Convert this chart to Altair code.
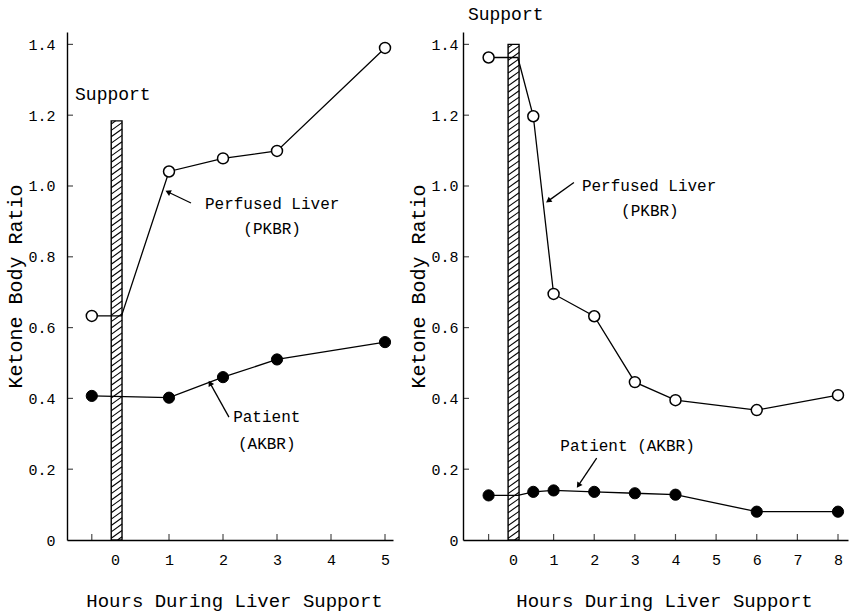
import altair as alt
import numpy as np
import pandas as pd

FONT = "Liberation Mono"

# ---------------- data ----------------
# Left panel
L_hours = [-0.43, 1, 2, 3, 5]
L_pkbr = [0.633, 1.041, 1.078, 1.099, 1.39]
L_akbr = [0.407, 0.402, 0.46, 0.51, 0.559]
L_bar = [-0.07, 0.13, 1.184]          # support bar: start, end (hours), height
L_xticks = [0, 1, 2, 3, 4, 5]

# Right panel
R_hours = [-0.6, 0.5, 1, 2, 3, 4, 6, 8]
R_pkbr = [1.363, 1.197, 0.695, 0.632, 0.446, 0.395, 0.367, 0.409]
R_akbr = [0.126, 0.136, 0.140, 0.136, 0.132, 0.128, 0.080, 0.080]
R_bar = [-0.12, 0.15, 1.40]
R_xticks = [0, 1, 2, 3, 4, 5, 6, 7, 8]

y_ticks = [0, 0.2, 0.4, 0.6, 0.8, 1.0, 1.2, 1.4]

# annotations: text, x, y
L_notes_text = ["Perfused Liver", "(PKBR)", "Patient", "(AKBR)"]
L_notes_x = [2.91, 2.91, 2.81, 2.81]
L_notes_y = [0.949, 0.878, 0.347, 0.271]
R_notes_text = ["Perfused Liver", "(PKBR)", "Patient (AKBR)"]
R_notes_x = [3.35, 3.37, 2.82]
R_notes_y = [1.0, 0.93, 0.266]

# arrows: tail x, tail y, head x, head y, head angle
L_arrows = [[1.407, 0.952, 0.981, 0.983, 295.6], [2.11, 0.347, 1.76, 0.443, 331.0]]
R_arrows = [[1.50, 1.01, 0.87, 0.958, 234.4], [2.06, 0.231, 1.61, 0.154, 213.9]]

# "Support" label position (left edge x, baseline y)
L_support = [-0.74, 1.243]
R_support = [-1.11, 1.47]

YDOM = [0, 1.435]
H = 508


def hatch(x0, x1, top, spacing=0.018, rise=0.022):
    rows = []
    for s in np.arange(-rise + spacing / 2, top, spacing):
        xa, ya = x0, s
        if ya < 0:
            xa = x0 + (-s) / rise * (x1 - x0)
            ya = 0.0
        xb, yb = x1, s + rise
        if yb > top:
            xb = x0 + (top - s) / rise * (x1 - x0)
            yb = top
        if xa < xb:
            rows.append({"x": xa, "x2": xb, "y": ya, "y2": yb})
    return pd.DataFrame(rows)


def panel(hours, pk, ak, bar, xticks, xdom, width, notes, arrows, support,
          vertex_pk, vertex_ak, label_pad, ytitle_x, xtitle_x):
    xs = alt.Scale(domain=xdom, nice=False, zero=False)
    ys = alt.Scale(domain=YDOM, nice=False, zero=False)

    X = lambda f, **k: alt.X(f, type="quantitative", scale=xs, **k)
    Y = lambda f, **k: alt.Y(f, type="quantitative", scale=ys, **k)

    bar_df = pd.DataFrame({"x": [bar[0]], "x2": [bar[1]], "y": [0], "y2": [bar[2]]})
    base = alt.Chart(bar_df).mark_rect(fill="white", stroke="black", strokeWidth=1.4).encode(
        x=X("x", axis=alt.Axis(values=xticks, title="Hours During Liver Support",
                               labelExpr="format(datum.value, 'd')",
                               titleX=xtitle_x, titleY=66, titleBaseline="alphabetic",
                               titleAlign="center", titleAnchor="middle",
                               labelPadding=12)),
        x2="x2",
        y=Y("y", axis=alt.Axis(values=y_ticks, title="Ketone Body Ratio",
                               labelExpr="datum.value == 0 ? '0' : format(datum.value, '.1f')",
                               titleX=ytitle_x, titleBaseline="middle",
                               labelPadding=label_pad)),
        y2="y2",
    )

    hatch_layer = alt.Chart(hatch(bar[0], bar[1], bar[2])).mark_rule(
        color="black", strokeWidth=1.1).encode(x=X("x"), x2="x2", y=Y("y"), y2="y2")

    # inner ticks
    xt = pd.DataFrame({"x": [hours[0]] + xticks[1:], "y": [0] * len(xticks)})
    xtick_layer = alt.Chart(xt).mark_tick(orient="vertical", size=6, thickness=1.2,
                                          yOffset=-3, color="black").encode(x=X("x"), y=Y("y"))
    yt = pd.DataFrame({"x": [xdom[0]] * (len(y_ticks) - 1), "y": y_ticks[1:]})
    ytick_layer = alt.Chart(yt).mark_tick(orient="horizontal", size=6, thickness=1.2,
                                          xOffset=3, color="black").encode(x=X("x"), y=Y("y"))

    # lines
    pk_line = pd.DataFrame({"x": hours + ([vertex_pk] if vertex_pk is not None else []),
                            "y": pk + ([pk[0]] if vertex_pk is not None else [])})
    ak_line = pd.DataFrame({"x": hours + ([vertex_ak] if vertex_ak is not None else []),
                            "y": ak + ([ak[0]] if vertex_ak is not None else [])})
    l1 = alt.Chart(pk_line).mark_line(color="black", strokeWidth=1.3).encode(x=X("x"), y=Y("y"))
    l2 = alt.Chart(ak_line).mark_line(color="black", strokeWidth=1.3).encode(x=X("x"), y=Y("y"))

    pts_pk = alt.Chart(pd.DataFrame({"x": hours, "y": pk})).mark_point(
        shape="circle", filled=True, fill="white", stroke="black", strokeWidth=1.5,
        size=120, opacity=1).encode(x=X("x"), y=Y("y"))
    pts_ak = alt.Chart(pd.DataFrame({"x": hours, "y": ak})).mark_point(
        shape="circle", filled=True, fill="black", stroke="black", strokeWidth=1,
        size=125, opacity=1).encode(x=X("x"), y=Y("y"))

    notes_df = pd.DataFrame({"x": notes[1], "y": notes[2], "t": notes[0]})
    notes_layer = alt.Chart(notes_df).mark_text(font=FONT, fontSize=16, align="center",
                                                baseline="middle", color="black").encode(
        x=X("x"), y=Y("y"), text="t:N")

    ar = pd.DataFrame(arrows, columns=["x", "y", "x2", "y2", "a"])
    arrow_lines = alt.Chart(ar).mark_rule(color="black", strokeWidth=1.3).encode(
        x=X("x"), y=Y("y"), x2="x2", y2="y2")
    arrow_heads = alt.Chart(ar).mark_point(shape="triangle-up", filled=True, color="black",
                                           size=40, opacity=1).encode(
        x=X("x2"), y=Y("y2"), angle=alt.Angle("a:Q", scale=None))

    sup = alt.Chart(pd.DataFrame({"x": [support[0]], "y": [support[1]], "t": ["Support"]})).mark_text(
        font=FONT, fontSize=18, align="left", baseline="alphabetic", color="black").encode(
        x=X("x"), y=Y("y"), text="t:N")

    return alt.layer(base, hatch_layer, xtick_layer, ytick_layer, l1, l2, pts_pk, pts_ak,
                     notes_layer, arrow_lines, arrow_heads, sup).properties(width=width, height=H)


left = panel(L_hours, L_pkbr, L_akbr, L_bar, L_xticks, [-0.889, 5.148], 326,
             [L_notes_text, L_notes_x, L_notes_y], L_arrows, L_support,
             0.12, None, 12, -52, 167)
right = panel(R_hours, R_pkbr, R_akbr, R_bar, R_xticks, [-1.23, 8.246], 385,
              [R_notes_text, R_notes_x, R_notes_y], R_arrows, R_support,
              0.12, 0.12, 5, -45, 201)

chart = alt.hconcat(left, right, spacing=70, bounds="flush").properties(
    padding={"left": 5, "top": 5, "right": 4, "bottom": 5}
).configure_view(stroke=None).configure_axis(
    grid=False, ticks=False, domainColor="black", domainWidth=1.4,
    labelFont=FONT, labelFontSize=15, labelColor="black",
    titleFont=FONT, titleFontSize=19, titleFontWeight="normal", titleColor="black",
).configure_axisY(titleFontSize=20)

chart.save("out.html", embed_options={"renderer": "svg", "actions": False})
